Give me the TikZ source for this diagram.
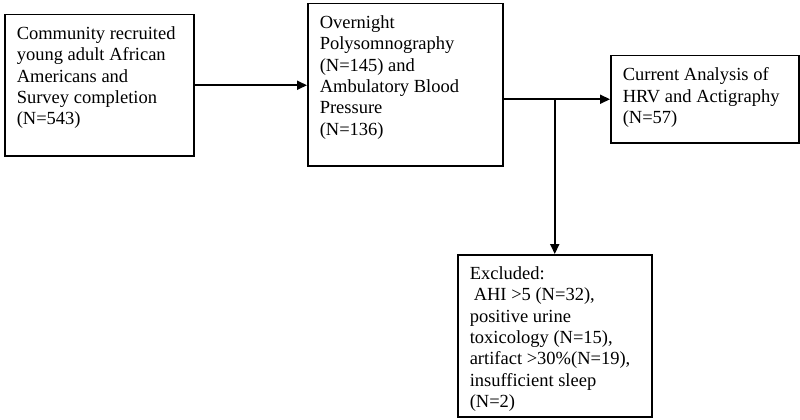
\documentclass[tikz,border=0pt]{standalone}
\usepackage{fontspec}
\setmainfont{Liberation Serif}
\usepackage{tikz}
\usetikzlibrary{arrows.meta, positioning}

\tikzset{
  stagebox/.style={draw=black, line width=1.5pt, inner sep=12pt, anchor=north west,
    font=\fontsize{18.5}{21.3}\selectfont},
  flowarrow/.style={line width=2pt, -{Triangle[length=10pt, width=9pt]}}
}

\begin{document}
\begin{tikzpicture}[x=1pt, y=-1pt]
  \useasboundingbox (0,0) rectangle (800,420);

  % Stage boxes
  \node[stagebox] (recruit) at (4,14) {\parbox[t][117pt][t]{165pt}{\raggedright
    Community recruited\\young adult African\\Americans and\\Survey completion\\(N=543)}};
  \node[stagebox] (psg) at (307,3) {\parbox[t][138pt][t]{171pt}{\raggedright
    Overnight\\Polysomnography\\(N=145) and\\Ambulatory Blood\\Pressure\\(N=136)}};
  \node[stagebox] (analysis) at (610,55) {\parbox[t][63pt][t]{164pt}{\raggedright
    Current Analysis of\\HRV and Actigraphy\\(N=57)}};
  \node[stagebox] (excluded) at (457,254) {\parbox[t][138pt][t]{170pt}{\raggedright
    Excluded:\\\hspace*{4pt}AHI >5 (N=32),\\positive urine\\toxicology (N=15),\\artifact >30\%(N=19),\\insufficient sleep\\(N=2)}};

  % Connectors
  \draw[flowarrow] (recruit.east) -- (recruit.east -| psg.west);
  \draw[flowarrow] (psg.east |- analysis.west) -- (analysis.west);
  \coordinate (split) at (excluded.north |- analysis.west);
  \draw[flowarrow] (split) -- (excluded.north);
\end{tikzpicture}
\end{document}
